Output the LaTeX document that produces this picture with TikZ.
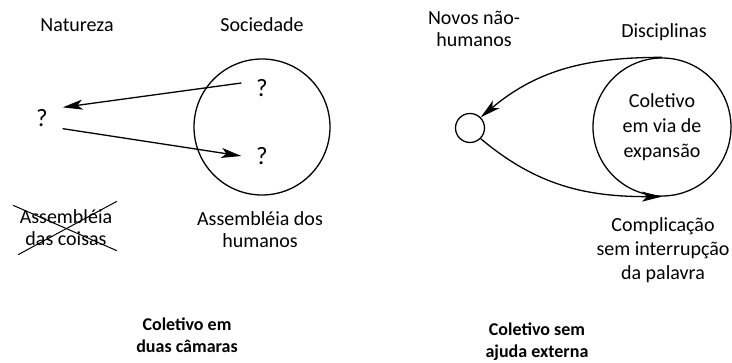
\documentclass[tikz,border=0pt]{standalone}
\usepackage{fontspec}
\setmainfont{Carlito}
\usetikzlibrary{positioning,arrows.meta}

\begin{document}
\begin{tikzpicture}[x=1pt, y=-1pt, line width=1.3pt,
    txt/.style = {align=center, font=\fontsize{20}{22}\selectfont, inner sep=1pt},
    title/.style = {align=center, font=\fontsize{18}{22}\selectfont\bfseries},
    qmark/.style = {align=center, font=\fontsize{25}{25}\selectfont, inner sep=0pt, minimum width=40pt, minimum height=20pt},
    ring/.style = {draw, circle, inner sep=0pt},
    arr/.style = {-{Stealth[length=20pt, width=10pt, inset=5pt]}}]
  \useasboundingbox (0,0) rectangle (732,363);
  % duas camaras
  \node[txt] (natureza) at (77,25) {Natureza};
  \node[txt] (sociedade) at (262,25) {Sociedade};
  \node[ring, minimum size=136pt] (soc) at (262,127) {};
  \node[qmark] (q1) at (262,88) {?};
  \node[qmark] (q2) at (262,156) {?};
  \node[qmark] (q0) at (42,118) {?};
  \node[txt] (coisas) at (66,228) {Assembléia\\das coisas};
  \node[txt] (humanos) at (260,230) {Assembléia dos\\humanos};
  \node[title] (duas) at (187,335) {Coletivo em\\duas câmaras};
  \draw[arr] ([yshift=5pt]q1.west) -- (q0.north east);
  \draw[arr] (q0.south east) -- (q2.west);
  \draw[line width=1pt] ([shift={(0,7)}]coisas.south west) -- ([shift={(3,-7)}]coisas.north east);
  \draw[line width=1pt] ([shift={(-5,-3)}]coisas.north west) -- ([shift={(3,3)}]coisas.south east);
  % sem ajuda externa
  \node[txt] (novos) at (474,29) {Novos não-\\humanos};
  \node[txt] (disc) at (664,32) {Disciplinas};
  \node[ring, minimum size=138pt, txt, font=\fontsize{20}{25}\selectfont] (col) at (662,127) {Coletivo\\em via de\\expansão};
  \node[ring, minimum size=29pt] (novo) at (470,128) {};
  \node[txt, font=\fontsize{20}{24}\selectfont] (compl) at (663,250) {Complicação\\sem interrupção\\da palavra};
  \node[title] (sem) at (537,342) {Coletivo sem\\ajuda externa};
  \draw[arr] (col.north) to[out=180, in=40] (novo.north east);
  \draw[arr] (novo.south east) to[out=-40, in=180] (col.south);
\end{tikzpicture}
\end{document}
